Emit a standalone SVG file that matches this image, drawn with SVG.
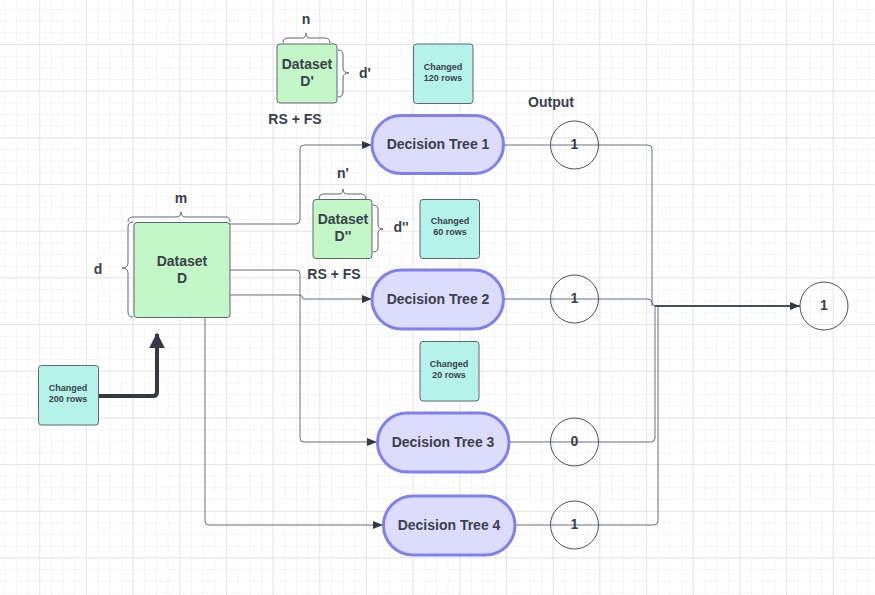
<svg xmlns="http://www.w3.org/2000/svg" width="875" height="595" viewBox="0 0 875 595">
<defs>
<pattern id="minor" x="-7.4" y="-2.7" width="11.67" height="11.67" patternUnits="userSpaceOnUse">
<path d="M0 0H11.67M0 0V11.67" fill="none" stroke="#ececec" stroke-width="1"/>
</pattern>
<pattern id="major" x="-7.4" y="-2.7" width="46.67" height="46.67" patternUnits="userSpaceOnUse">
<path d="M0 0H46.67M0 0V46.67" fill="none" stroke="#e2e2e2" stroke-width="1.5"/>
</pattern>
<marker id="arr" viewBox="0 0 10 10" refX="10" refY="5" markerWidth="10" markerHeight="10" markerUnits="userSpaceOnUse" orient="auto">
<path d="M0 1L10 5L0 9z" fill="#333a45"/>
</marker>
<marker id="arrBig" viewBox="0 0 10 10" refX="9" refY="5" markerWidth="4" markerHeight="4" orient="auto">
<path d="M0 0L10 5L0 10z" fill="#333a45"/>
</marker>
</defs>
<style>
text{font-family:"Liberation Sans",Arial,sans-serif;font-weight:bold;fill:#3a414a;text-anchor:middle;dominant-baseline:central}
.t14{font-size:14px}
.t9{font-size:9px}
.ds{fill:#c3f7c8;stroke:#5e6670;stroke-width:1}
.ch{fill:#b5f2ea;stroke:#5e6670;stroke-width:1}
.dt{fill:#dcdcfc;stroke:#8080f0;stroke-width:3}
.out{fill:none;stroke:#4a4f57;stroke-width:1}
.brace{fill:none;stroke:#5e6670;stroke-width:1}
.conn{fill:none;stroke:#6b7079;stroke-width:1}
</style>
<rect width="875" height="595" fill="#ffffff"/>
<rect width="875" height="595" fill="url(#minor)"/>
<rect width="875" height="595" fill="url(#major)"/>

<g id="connectors">
<path class="conn" d="M230 224H296Q300 224 300 220V149Q300 145 304 145H372" marker-end="url(#arr)"/>
<path class="conn" d="M230 295H299Q303 295 303 299H372" marker-end="url(#arr)"/>
<path class="conn" d="M230 270H296Q300 270 300 274V438Q300 442 304 442H377" marker-end="url(#arr)"/>
<path class="conn" d="M205 318V521Q205 525 209 525H383" marker-end="url(#arr)"/>
<path class="conn" d="M504 145H648Q652 145 652 149V302Q652 306 656 306"/>
<path class="conn" d="M503 299H648Q652 299 652 303V306"/>
<path class="conn" d="M509 442H651Q655 442 655 438V306"/>
<path class="conn" d="M515 525H654Q658 525 658 521V306"/>
<path d="M655 306H800" fill="none" stroke="#4a4f57" stroke-width="2" marker-end="url(#arr)"/>
<path d="M98 396H153Q157 396 157 392V334" fill="none" stroke="#333a45" stroke-width="4" marker-end="url(#arrBig)"/>
</g>

<g id="dataset-d">
<rect class="ds" x="134" y="222.5" width="96" height="95" rx="3"/>
<text class="t14" x="182" y="261">Dataset</text>
<text class="t14" x="182" y="278">D</text>
<path class="brace" d="M128 222Q128 217 133 217H176Q181 217 181 212Q181 217 186 217H226Q230 217 230 222"/>
<text class="t14" x="181" y="198">m</text>
<path class="brace" d="M133 222Q128 222 128 227V263Q128 268 122 268Q128 268 128 273V312Q128 317 133 317"/>
<text class="t14" x="98" y="269">d</text>
</g>

<g id="dataset-d1">
<rect class="ds" x="277" y="44" width="60" height="59" rx="3"/>
<text class="t14" x="307" y="64">Dataset</text>
<text class="t14" x="307" y="81">D'</text>
<path class="brace" d="M283 43Q283 38 288 38H302Q306 38 306 33Q306 38 310 38H325Q330 38 330 43"/>
<text class="t14" x="306" y="19">n</text>
<path class="brace" d="M338 50Q343 50 343 55V68Q343 73 349 73Q343 73 343 78V92Q343 97 338 97"/>
<text class="t14" x="365" y="73">d'</text>
<text class="t14" x="295" y="119">RS + FS</text>
</g>

<g id="dataset-d2">
<rect class="ds" x="313" y="199.5" width="59" height="59" rx="3"/>
<text class="t14" x="343" y="219">Dataset</text>
<text class="t14" x="343" y="236">D''</text>
<path class="brace" d="M319 199Q319 194 324 194H339Q343 194 343 189Q343 194 347 194H361Q366 194 366 199"/>
<text class="t14" x="343" y="173">n'</text>
<path class="brace" d="M373 205Q378 205 378 210V224Q378 229 383 229Q378 229 378 234V247Q378 252 373 252"/>
<text class="t14" x="401" y="227">d''</text>
<text class="t14" x="334" y="274">RS + FS</text>
</g>

<g id="changed-120">
<rect class="ch" x="413.5" y="44" width="59.5" height="59.5" rx="3"/>
<text class="t9" x="443" y="67">Changed</text>
<text class="t9" x="443" y="78">120 rows</text>
</g>
<g id="changed-60">
<rect class="ch" x="420" y="199.5" width="59.5" height="59" rx="3"/>
<text class="t9" x="450" y="221">Changed</text>
<text class="t9" x="450" y="232">60 rows</text>
</g>
<g id="changed-20">
<rect class="ch" x="420" y="341.5" width="59" height="59.5" rx="3"/>
<text class="t9" x="449" y="364">Changed</text>
<text class="t9" x="449" y="375">20 rows</text>
</g>
<g id="changed-200">
<rect class="ch" x="38.5" y="365.5" width="60" height="59.5" rx="3"/>
<text class="t9" x="68" y="388">Changed</text>
<text class="t9" x="68" y="399">200 rows</text>
</g>

<g id="tree-1">
<rect class="dt" x="372" y="115.5" width="131.5" height="58" rx="29"/>
<text class="t14" x="438" y="144">Decision Tree 1</text>
</g>
<g id="tree-2">
<rect class="dt" x="372" y="270" width="131.5" height="59" rx="29.5"/>
<text class="t14" x="438" y="299">Decision Tree 2</text>
</g>
<g id="tree-3">
<rect class="dt" x="377.5" y="413" width="131.5" height="59" rx="29.5"/>
<text class="t14" x="443" y="442">Decision Tree 3</text>
</g>
<g id="tree-4">
<rect class="dt" x="383.5" y="496" width="131.5" height="59" rx="29.5"/>
<text class="t14" x="449" y="525">Decision Tree 4</text>
</g>

<text class="t14" x="551" y="102">Output</text>
<g id="out-1">
<circle class="out" cx="574.5" cy="145" r="24"/>
<text class="t14" x="574.5" y="144">1</text>
</g>
<g id="out-2">
<circle class="out" cx="574.5" cy="299" r="24"/>
<text class="t14" x="574.5" y="298">1</text>
</g>
<g id="out-3">
<circle class="out" cx="574.5" cy="442" r="24"/>
<text class="t14" x="574.5" y="441">0</text>
</g>
<g id="out-4">
<circle class="out" cx="574.5" cy="525" r="24"/>
<text class="t14" x="574.5" y="524">1</text>
</g>
<g id="final">
<circle class="out" cx="824" cy="306" r="24"/>
<text class="t14" x="824" y="305">1</text>
</g>
</svg>
